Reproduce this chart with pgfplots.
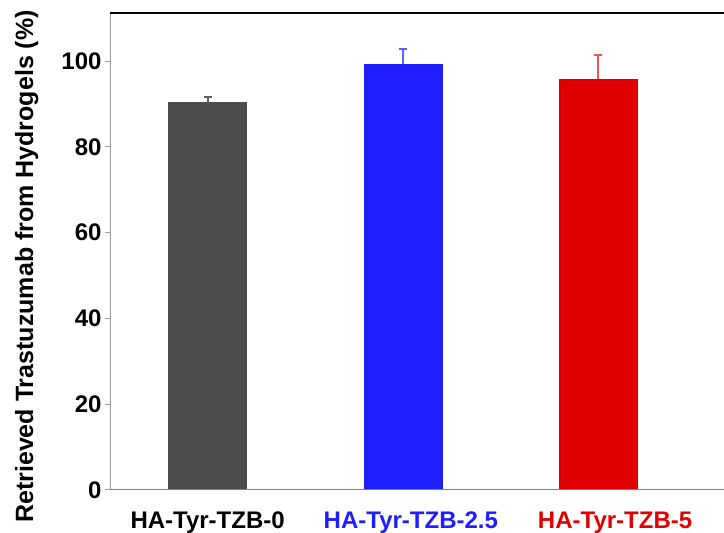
\documentclass[border=0pt]{standalone}
\usepackage{pgfplots}
\pgfplotsset{compat=1.18}
\usepackage{fontspec}
\setmainfont{Liberation Sans}

\definecolor{barGray}{RGB}{77,77,77}
\definecolor{barBlue}{RGB}{30,30,255}
\definecolor{barRed}{RGB}{224,0,0}
\definecolor{errGray}{RGB}{95,95,95}
\definecolor{errBlue}{RGB}{95,95,255}
\definecolor{errRed}{RGB}{236,85,85}
\definecolor{spineGray}{RGB}{160,160,160}
\definecolor{baseGray}{RGB}{130,130,130}

\begin{document}
\begin{tikzpicture}
% fixed page frame around the axis box
\path[use as bounding box] (-110pt,-43pt) rectangle (614pt,490pt);
\begin{axis}[
  at={(0,0)}, anchor=south west,
  scale only axis, width=614pt, height=477pt,
  xmin=-0.5, xmax=2.645, ymin=0, ymax=111.2,
  axis line style={draw=none},
  ytick={0,20,...,100},
  xtick={0,1,2},
  xticklabels={
    {\textcolor{black}{HA-Tyr-TZB-0}},
    {\textcolor{barBlue}{\hspace*{16pt}HA-Tyr-TZB-2.5}},
    {\textcolor{barRed}{\hspace*{34pt}HA-Tyr-TZB-5}}},
  ytick pos=left, xtick pos=bottom,
  tick align=outside,
  major tick length=5pt,
  ytick style={spineGray, line width=1pt},
  xtick style={draw=none},
  tick label style={font=\fontsize{24}{28}\selectfont\bfseries},
  /pgf/number format/assume math mode=true,
  xticklabel style={anchor=base, inner sep=0pt, yshift=-34pt},
  ylabel={Retrieved Trastuzumab from Hydrogels (\%)},
  ylabel style={font=\fontsize{25}{29}\selectfont\bfseries,
    at={(axis description cs:-0.1254,0.4686)}, anchor=base},
  ybar, bar width=0.4,
  every axis plot/.append style={bar shift=0pt},
  error bars/y dir=plus, error bars/y explicit,
]
\addplot[fill=barGray, draw=barGray,
  error bars/error bar style={errGray, line width=2pt},
  error bars/error mark options={rotate=90, errGray, mark size=4pt, line width=2pt}]
  coordinates {(0,90.5) +- (0,1.2)};
\addplot[fill=barBlue, draw=barBlue,
  error bars/error bar style={errBlue, line width=2pt},
  error bars/error mark options={rotate=90, errBlue, mark size=4pt, line width=2pt}]
  coordinates {(1,99.2) +- (0,3.5)};
\addplot[fill=barRed, draw=barRed,
  error bars/error bar style={errRed, line width=2pt},
  error bars/error mark options={rotate=90, errRed, mark size=4pt, line width=2pt}]
  coordinates {(2,95.8) +- (0,5.6)};
% frame lines
\draw[spineGray, line width=1.2pt] (rel axis cs:0,0) -- (rel axis cs:0,1);
\draw[baseGray, line width=1.6pt] (rel axis cs:0,0) -- (rel axis cs:1,0);
\draw[black, line width=2pt] (rel axis cs:0,1) -- (rel axis cs:1,1);
\end{axis}
\end{tikzpicture}
\end{document}
